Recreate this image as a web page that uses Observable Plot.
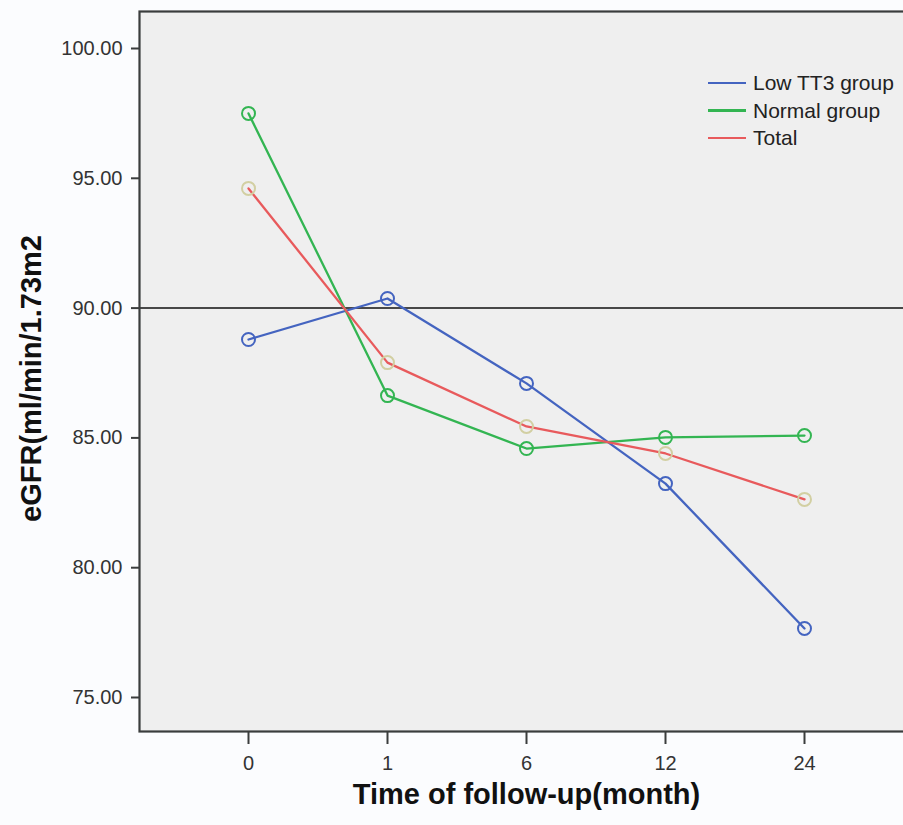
<!DOCTYPE html>
<html>
<head>
<meta charset="utf-8">
<script src="https://cdn.jsdelivr.net/npm/d3@7"></script>
<script src="https://cdn.jsdelivr.net/npm/@observablehq/plot@0.6"></script>
<style>
  html, body { margin: 0; padding: 0; background: #fbfcfe; overflow: hidden; }
  #wrap { position: relative; width: 903px; height: 825px; overflow: hidden; font-family: "Liberation Sans", Arial, sans-serif; }
  #chart svg { max-width: none !important; display: block; }
  #legend { position: absolute; left: 708px; top: 69px; font-size: 21px; color: #222; line-height: 27.5px; }
  #legend .item { display: flex; align-items: center; white-space: nowrap; }
  #legend .sw { display: inline-block; width: 38px; height: 2.5px; margin-right: 7px; }
</style>
</head>
<body>
<div id="wrap"><div id="chart"></div><div id="legend"></div></div>
<script>
const months = ["0", "1", "6", "12", "24"];
const seriesNames = ["Low TT3 group", "Normal group", "Total"];
const lowTT3 = [88.79, 90.37, 87.10, 83.24, 77.66];
const normal = [97.50, 86.63, 84.59, 85.02, 85.09];
const total  = [94.61, 87.90, 85.44, 84.40, 82.63];
const yTicks = [75, 80, 85, 90, 95, 100];
const refLine = [90];

const lineColors = {"Low TT3 group": "#4464c0", "Normal group": "#33b552", "Total": "#e85a5c"};
const dotColors  = {"Low TT3 group": "#4464c0", "Normal group": "#33b552", "Total": "#d2cfa2"};

const valuesBySeries = [lowTT3, normal, total];
const data = [];
seriesNames.forEach((s, i) => months.forEach((m, j) => data.push({series: s, month: m, value: valuesBySeries[i][j]})));

const chart = Plot.plot({
  width: 915,
  height: 825,
  marginLeft: 139,
  marginRight: 2,
  marginTop: 11,
  marginBottom: 94,
  style: {background: "transparent", fontFamily: "Liberation Sans, Arial, sans-serif", maxWidth: "none"},
  x: {type: "point", domain: months, range: [246, 805], padding: 0, label: null},
  y: {domain: [75, 100], range: [697, 48], label: null},
  marks: [
    Plot.frame({fill: "#efefef"}),
    Plot.ruleY(refLine, {stroke: "#111", strokeWidth: 1.5}),
    Plot.line(data, {x: "month", y: "value", z: "series", stroke: d => lineColors[d.series], strokeWidth: 2.3}),
    Plot.dot(data, {x: "month", y: "value", r: 6.5, stroke: d => dotColors[d.series], strokeWidth: 2, fill: "none"}),
    Plot.frame({stroke: "#3a3d3d", strokeWidth: 2.2}),
    Plot.axisY(yTicks, {tickFormat: d3.format(".2f"), tickSize: 8, tickPadding: 9, fontSize: 20, stroke: "#3a3d3d", strokeWidth: 2, fill: "#333", label: null}),
    Plot.axisX(months, {tickSize: 13, tickPadding: 11, fontSize: 20, stroke: "#3a3d3d", strokeWidth: 2, fill: "#333", label: null}),
    Plot.text(["Time of follow-up(month)"], {frameAnchor: "bottom", dy: 72, text: d => d, fontSize: 29, fontWeight: "bold", fill: "#111"}),
    Plot.text(["eGFR(ml/min/1.73m2"], {frameAnchor: "left", textAnchor: "middle", dx: -108, dy: 7, rotate: -90, text: d => d, fontSize: 29, fontWeight: "bold", fill: "#111"})
  ]
});
document.getElementById("chart").appendChild(chart);

const legend = document.getElementById("legend");
seriesNames.forEach(s => {
  const item = document.createElement("div");
  item.className = "item";
  item.innerHTML = `<span class="sw" style="background:${lineColors[s]}"></span><span>${s}</span>`;
  legend.appendChild(item);
});
</script>
</body>
</html>
